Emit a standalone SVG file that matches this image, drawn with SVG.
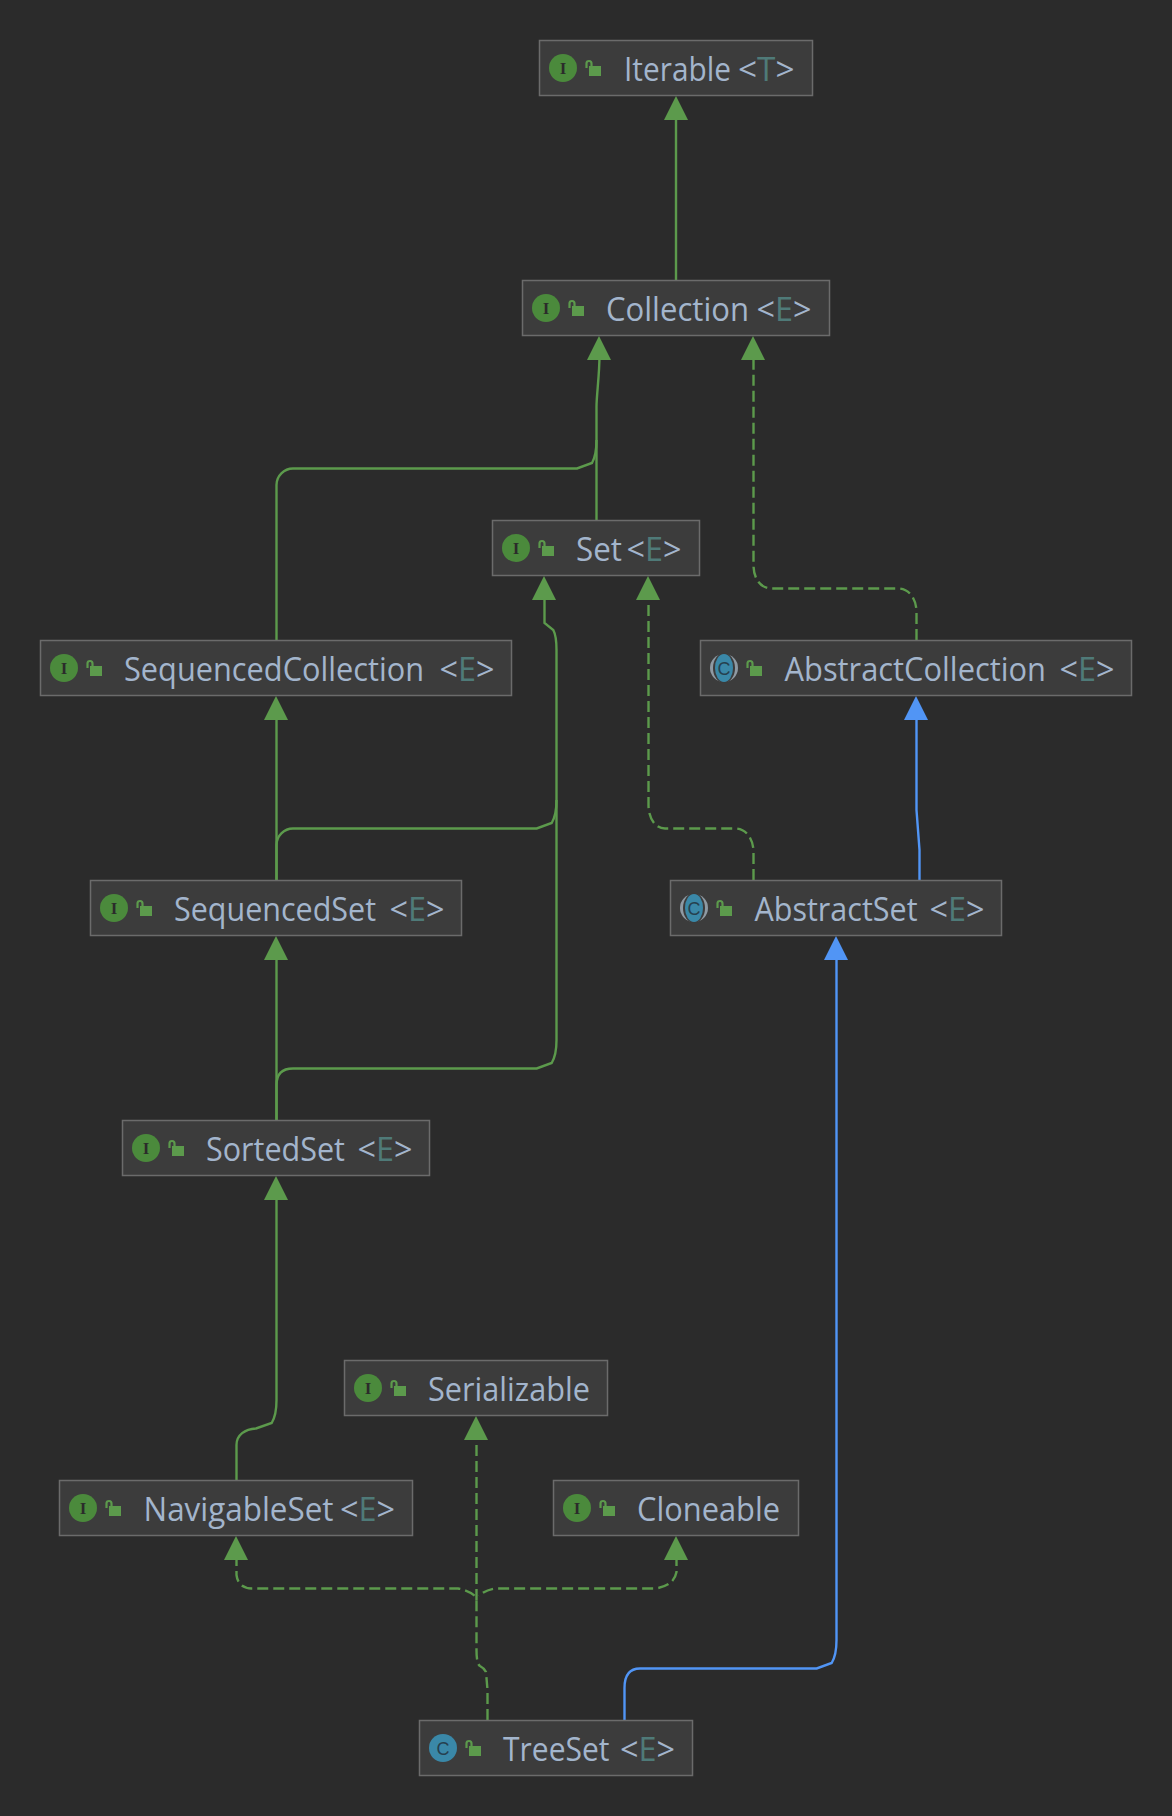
<svg xmlns="http://www.w3.org/2000/svg" width="1172" height="1816" viewBox="0 0 1172 1816">
<style>
.b{fill:#3c3c3c;stroke:#6b6b6b;stroke-width:1.5}
text{font-family:"Open Sans","Noto Sans",sans-serif;font-size:32px;fill:#a3b5cc}
.p{fill:#4f7a78}
.il{font-family:"Liberation Serif",serif;font-size:17px;font-weight:bold;fill:#2b2b2b;text-anchor:middle}
.cl{font-family:"Liberation Sans",sans-serif;font-size:18px;fill:#26404f;text-anchor:middle}
.ci{fill:#4b8a3c}.cc{fill:#3a88a8}
.g{fill:none;stroke:#5c9a4c;stroke-width:2.400}
.d{stroke-dasharray:11 5}
.u{fill:none;stroke:#5195f5;stroke-width:2.400}
.tg{fill:#5c9a4c}.tu{fill:#5195f5}
.lk{fill:none;stroke:#5c9a4c;stroke-width:2.200}
.lb{fill:#5c9a4c}
</style>
<defs>
<g id="lock"><path class="lk" d="M2.500 8V3.500Q2.500 1 5 1Q7.500 1 7.500 3.500V6"/><rect class="lb" x="5" y="6" width="12" height="10"/></g>
<g id="ii"><circle class="ci" r="14"/><text class="il" y="6">I</text><use href="#lock" x="21" y="-8"/></g>
<g id="ic"><circle class="cc" r="14"/><text class="cl" y="6.500">C</text><use href="#lock" x="21" y="-8"/></g>
<g id="ia"><circle r="14" fill="#8f9aa3"/><ellipse rx="11" ry="15" fill="#3c3c3c"/><ellipse class="cc" rx="9" ry="14"/><text class="cl" y="6.500">C</text><use href="#lock" x="21" y="-8"/></g>
</defs>
<rect width="1172" height="1816" fill="#2b2b2b"/>
<g id="connectors">
<path class="g" d="M676 280V118"/><path class="tg" d="M676 96L688 120H664Z"/>
<path class="g" d="M596.500 520V407C596.500 395 599.500 375 599.500 355"/><path class="tg" d="M599 336L611 360H587Z"/>
<path class="g" d="M276.500 640V485C276.500 476 284 468.500 293 468.500H577L592 463Q596.500 455 596.500 440"/>
<path class="g d" d="M916.500 640V612C916.500 600 910 588.500 898 588.500H772C760 588.500 753.500 578 753.500 565V355"/><path class="tg" d="M753 336L765 360H741Z"/>
<path class="u" d="M919.500 880V850L916.500 810V715"/><path class="tu" d="M916 696L928 720H904Z"/>
<path class="g d" d="M753.500 880V852C753.500 840 747 828.500 735 828.500H665C655 828.500 648.500 818 648.500 805V595"/><path class="tg" d="M648 576L660 600H636Z"/>
<path class="g" d="M544.500 595V623L553.300 630Q556.500 636 556.500 650V1040Q556.500 1055 551.700 1063L536.700 1068.500H293C284 1068.500 276.500 1072 276.500 1085V1120"/><path class="tg" d="M544 576L556 600H532Z"/>
<path class="g" d="M276.500 880V845C276.500 836 284 828.500 293 828.500H536.700L551.700 823Q556.500 815 556.500 800"/>
<path class="g" d="M276.500 880V715"/><path class="tg" d="M276 696L288 720H264Z"/>
<path class="g" d="M276.500 1120V955"/><path class="tg" d="M276 936L288 960H264Z"/>
<path class="g" d="M236.500 1480V1445C236.500 1435 245 1429 256 1428.500L271.700 1423Q276.500 1415 276.500 1400V1195"/><path class="tg" d="M276 1176L288 1200H264Z"/>
<path class="g d" d="M476.500 1600V1435"/><path class="tg" d="M476 1416L488 1440H464Z"/>
<path class="g d" d="M487.500 1720V1690L486 1672Q484 1668 480 1666Q476.500 1664 476.500 1650V1600"/>
<path class="g d" d="M236.500 1555V1575Q238 1588 252 1588.500H458Q468 1590 475 1596"/><path class="tg" d="M236 1536L248 1560H224Z"/>
<path class="g d" d="M676.500 1555V1572Q674 1586 655 1588.500H495Q485 1590 479 1596"/><path class="tg" d="M676 1536L688 1560H664Z"/>
<path class="u" d="M836.500 955V1640Q836.500 1655 831.700 1663L816.700 1668.500H640C630 1668.500 624.500 1675 624.500 1688V1720"/><path class="tu" d="M836 936L848 960H824Z"/>
</g>
<g id="iterable"><rect class="b" x="539.500" y="40.500" width="273" height="55"/><use href="#ii" x="563" y="68"/><text y="80.500" x="624" textLength="107" lengthAdjust="spacingAndGlyphs">Iterable</text><text y="80.500" x="738" textLength="56.500" lengthAdjust="spacingAndGlyphs">&lt;<tspan class="p">T</tspan>&gt;</text></g>
<g id="collection"><rect class="b" x="522.500" y="280.500" width="307" height="55"/><use href="#ii" x="546" y="308"/><text y="320.500" x="606" textLength="143" lengthAdjust="spacingAndGlyphs">Collection</text><text y="320.500" x="756.500" textLength="55" lengthAdjust="spacingAndGlyphs">&lt;<tspan class="p">E</tspan>&gt;</text></g>
<g id="set"><rect class="b" x="492.500" y="520.500" width="207" height="55"/><use href="#ii" x="516" y="548"/><text y="560.500" x="576" textLength="46" lengthAdjust="spacingAndGlyphs">Set</text><text y="560.500" x="626.500" textLength="55" lengthAdjust="spacingAndGlyphs">&lt;<tspan class="p">E</tspan>&gt;</text></g>
<g id="sequencedcollection"><rect class="b" x="40.500" y="640.500" width="471" height="55"/><use href="#ii" x="64" y="668"/><text y="680.500" x="124" textLength="300" lengthAdjust="spacingAndGlyphs">SequencedCollection</text><text y="680.500" x="439.500" textLength="55" lengthAdjust="spacingAndGlyphs">&lt;<tspan class="p">E</tspan>&gt;</text></g>
<g id="abstractcollection"><rect class="b" x="700.500" y="640.500" width="431" height="55"/><use href="#ia" x="724" y="668"/><text y="680.500" x="784.500" textLength="261.500" lengthAdjust="spacingAndGlyphs">AbstractCollection</text><text y="680.500" x="1059.500" textLength="55" lengthAdjust="spacingAndGlyphs">&lt;<tspan class="p">E</tspan>&gt;</text></g>
<g id="sequencedset"><rect class="b" x="90.500" y="880.500" width="371" height="55"/><use href="#ii" x="114" y="908"/><text y="920.500" x="174" textLength="202" lengthAdjust="spacingAndGlyphs">SequencedSet</text><text y="920.500" x="389.500" textLength="55" lengthAdjust="spacingAndGlyphs">&lt;<tspan class="p">E</tspan>&gt;</text></g>
<g id="abstractset"><rect class="b" x="670.500" y="880.500" width="331" height="55"/><use href="#ia" x="694" y="908"/><text y="920.500" x="754.500" textLength="163" lengthAdjust="spacingAndGlyphs">AbstractSet</text><text y="920.500" x="929.500" textLength="55" lengthAdjust="spacingAndGlyphs">&lt;<tspan class="p">E</tspan>&gt;</text></g>
<g id="sortedset"><rect class="b" x="122.500" y="1120.500" width="307" height="55"/><use href="#ii" x="146" y="1148"/><text y="1160.500" x="206" textLength="139" lengthAdjust="spacingAndGlyphs">SortedSet</text><text y="1160.500" x="357.500" textLength="55" lengthAdjust="spacingAndGlyphs">&lt;<tspan class="p">E</tspan>&gt;</text></g>
<g id="serializable"><rect class="b" x="344.500" y="1360.500" width="263" height="55"/><use href="#ii" x="368" y="1388"/><text y="1400.500" x="428" textLength="162" lengthAdjust="spacingAndGlyphs">Serializable</text></g>
<g id="navigableset"><rect class="b" x="59.500" y="1480.500" width="353" height="55"/><use href="#ii" x="83" y="1508"/><text y="1520.500" x="143.500" textLength="190" lengthAdjust="spacingAndGlyphs">NavigableSet</text><text y="1520.500" x="340" textLength="55" lengthAdjust="spacingAndGlyphs">&lt;<tspan class="p">E</tspan>&gt;</text></g>
<g id="cloneable"><rect class="b" x="553.500" y="1480.500" width="245" height="55"/><use href="#ii" x="577" y="1508"/><text y="1520.500" x="637" textLength="143" lengthAdjust="spacingAndGlyphs">Cloneable</text></g>
<g id="treeset"><rect class="b" x="419.500" y="1720.500" width="273" height="55"/><use href="#ic" x="443" y="1748"/><text y="1760.500" x="503" textLength="106.500" lengthAdjust="spacingAndGlyphs">TreeSet</text><text y="1760.500" x="620" textLength="55" lengthAdjust="spacingAndGlyphs">&lt;<tspan class="p">E</tspan>&gt;</text></g>
</svg>
